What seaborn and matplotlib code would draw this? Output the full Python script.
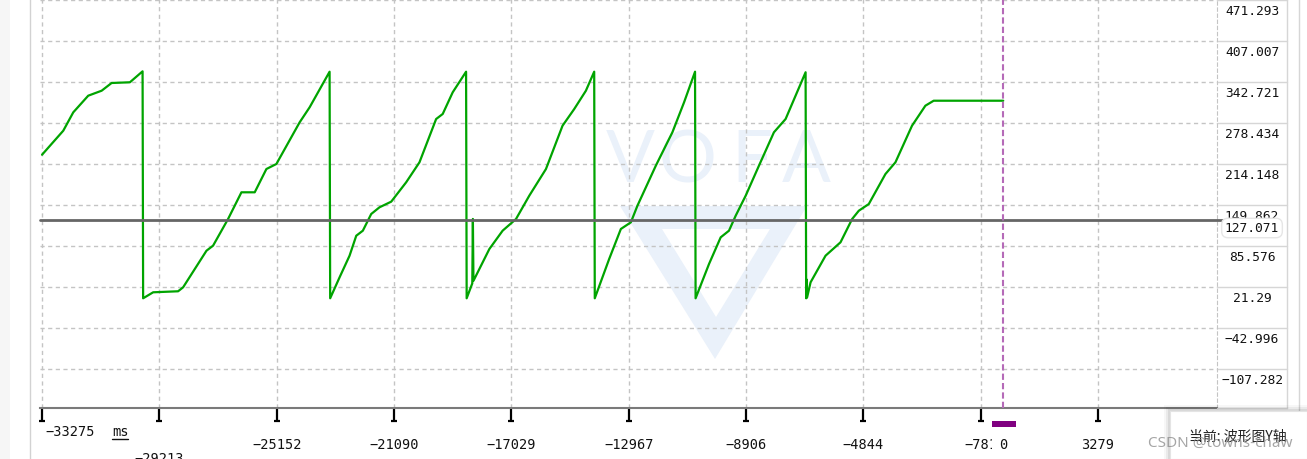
import matplotlib
matplotlib.use("Agg")
import matplotlib.pyplot as plt
import matplotlib.transforms as mtransforms
from matplotlib.patches import Rectangle, Polygon
import seaborn as sns
import pandas as pd

# waveform (time in ms, channel value)
t_ms = [-33275, -32539, -32193, -31675, -31211, -30866, -30233, -29794,
        -29775, -29428, -28564, -28391, -27582, -27354, -26835, -26372,
        -25912, -25508, -25162, -24357, -24011, -23320,
        -23300, -22974, -22629, -22397, -22169, -21879, -21592, -21187,
        -20669, -20209, -19632, -19404, -19058, -18595,
        -18575, -18380, -18360, -18340, -17789, -17330, -16867, -16407,
        -15830, -15256, -14851, -14447, -14160,
        -14140, -13642, -13237, -12891, -12663, -12027, -11453, -11049, -10669,
        -10650, -10185, -9781, -9494, -9262, -8916, -8457, -7938, -7534, -6842,
        -6822, -6805, -6790, -6669, -6151, -5633, -5231, -5000, -4654, -4077,
        -3732, -3158, -2695, -2408, 0]
value = [228.7, 266.4, 295.2, 321.3, 329.1, 341.2, 342.3, 359.5,
         3.6, 13.0, 14.6, 20.8, 78.2, 86.1, 127.9, 169.8,
         169.8, 206.3, 214.2, 279.5, 303.1, 358.9,
         3.6, 36.5, 70.4, 101.7, 109.6, 135.8, 146.3, 155.1,
         185.5, 216.8, 284.7, 292.6, 326.6, 358.9,
         3.6, 27.0, 128.0, 31.0, 80.9, 109.6, 127.9, 164.5,
         206.3, 274.2, 300.4, 329.1, 358.9,
         3.6, 65.2, 112.3, 122.7, 148.8, 211.5, 263.9, 310.9, 358.9,
         3.6, 57.4, 99.2, 109.6, 133.1, 164.5, 211.5, 263.9, 284.7, 358.0,
         3.6, 33.0, 5.0, 28.7, 70.4, 91.4, 127.9, 140.9, 151.4, 198.5,
         216.8, 274.2, 305.6, 313.4, 313.4]

xtick_vals = [-33275, -29213, -25152, -21090, -17029, -12967, -8906, -4844, -781, 3279]
xtick_labels = ["−33275", "−29213", "−25152", "−21090", "−17029", "−12967",
                "−8906", "−4844", "−781", "3279"]
ytick_vals = [471.293, 407.007, 342.721, 278.434, 214.148, 149.862, 85.576,
              21.29, -42.996, -107.282]
ytick_labels = ["471.293", "407.007", "342.721", "278.434", "214.148", "149.862",
                "85.576", "21.29", "−42.996", "−107.282"]
marker_value = 127.071
cursor_time = 0

df = pd.DataFrame({"t": t_ms, "v": value})

sns.set_style("white")
plt.rcParams["font.family"] = ["DejaVu Sans Mono"]

W, H = 1307, 460
fig = plt.figure(figsize=(W / 100, H / 100), dpi=100)
fig.patch.set_facecolor("white")


def fx(px):
    return px / W


def fy(py):
    return 1 - py / H


ax = fig.add_axes([fx(40), fy(409.3), fx(1217) - fx(40), 409.3 / H])
ax.set_xlim(-33345, 7400)
ax.set_ylim(-168.9, 472.9)
ax.set_facecolor("white")

# faint VOFA watermark behind everything
wm = "#eaf1fa"
for ch, px in zip("VOFA", [630, 688, 752, 806]):
    ax.text(fx(px), fy(162), ch, transform=fig.transFigure, ha="center", va="center",
            fontsize=52, color=wm, family=["Lato", "DejaVu Sans"], zorder=0.2)
ax.add_patch(Polygon([[fx(620), fy(207)], [fx(807), fy(207)], [fx(715), fy(360)]],
                     closed=True, transform=fig.transFigure, fc=wm, ec="none", zorder=0.1))
ax.add_patch(Polygon([[fx(662), fy(230)], [fx(770), fy(230)], [fx(716), fy(318)]],
                     closed=True, transform=fig.transFigure, fc="white", ec="none", zorder=0.15))

ax.set_axisbelow(True)
ax.grid(True, color="#c4c4c4", linestyle=(0, (3, 2.5)), linewidth=1)
ax.set_xticks(xtick_vals)
ax.set_xticklabels([])
ax.set_yticks(ytick_vals)
ax.set_yticklabels([])
ax.tick_params(axis="y", length=0, left=False, right=False)
ax.tick_params(axis="x", bottom=True, length=9.5, width=1.6, color="black", direction="out")
for s in ["left", "top"]:
    ax.spines[s].set_visible(False)
ax.spines["right"].set_color("#c4c4c4")
ax.spines["right"].set_linestyle((0, (3, 2.5)))
ax.spines["bottom"].set_color("#7a7a7a")
ax.spines["bottom"].set_linewidth(1.5)

# small feet on the tick marks
foot = mtransforms.blended_transform_factory(ax.transData, fig.transFigure)
ax.plot(xtick_vals, [fy(422)] * len(xtick_vals), transform=foot, linestyle="none",
        marker="_", markersize=4, markeredgewidth=1.6, color="black", clip_on=False)

sns.lineplot(data=df, x="t", y="v", sort=False, estimator=None, color="#00a400",
             linewidth=1.6, ax=ax, zorder=3)
ax.set_xlabel("")
ax.set_ylabel("")

# horizontal marker line and vertical cursor
ax.axhline(marker_value, xmin=0, xmax=1.016, color="#666666", lw=2, zorder=4, clip_on=False)
ax.axvline(cursor_time, color="#b56ab8", lw=1.5, linestyle=(0, (3, 1.5)), zorder=5)

# y label cells on the right
blend = mtransforms.blended_transform_factory(fig.transFigure, ax.transData)
for v, lab in zip(ytick_vals, ytick_labels):
    ax.plot([fx(1217), fx(1287)], [v, v], transform=blend, clip_on=False,
            color="#d6d6d6", lw=1)
    tr = mtransforms.offset_copy(blend, fig=fig, x=0, y=-10.5, units="dots")
    ax.text(fx(1252), v, lab, transform=tr, ha="center", va="center",
            fontsize=9.3, color="#111111")
fig.add_artist(plt.Line2D([fx(1287), fx(1287)], [fy(409), fy(0)], color="#d6d6d6", lw=1))
fig.add_artist(plt.Line2D([fx(1217), fx(1287)], [fy(409), fy(409)], color="#d6d6d6", lw=1))
fig.add_artist(plt.Line2D([fx(1299), fx(1299)], [fy(412), fy(0)], color="#d6d6d6", lw=1))

# marker value tag
fig.text(fx(1252), fy(229), f"{marker_value:.3f}", ha="center", va="center",
         fontsize=9.3, color="#111111", zorder=6,
         bbox=dict(boxstyle="round,pad=0.25,rounding_size=0.5", fc="white",
                   ec="#e6e6e6", lw=1))

# x tick labels, staggered like the original
xlab_y = [432, 459, 445, 445, 445, 445, 445, 445, 445, 445]
for i, (tv, lab) in enumerate(zip(xtick_vals, xtick_labels)):
    bx = mtransforms.blended_transform_factory(ax.transData, fig.transFigure)
    ha = "left" if i == 0 else "center"
    off = mtransforms.offset_copy(bx, fig=fig, x=3 if i == 0 else 0, y=0, units="dots")
    ax.text(tv, fy(xlab_y[i]), lab, transform=off, ha=ha, va="center",
            fontsize=9.8, color="#111111", clip_on=False)

fig.text(fx(120), fy(432), "ms", ha="center", va="center", fontsize=9.8, color="#111111")
fig.add_artist(plt.Line2D([fx(112), fx(128)], [fy(440), fy(440)], color="#111111", lw=1))

# cursor time box
fig.add_artist(Rectangle((fx(992), fy(460)), fx(24), 32 / H, transform=fig.transFigure,
                         fc="white", ec="none", zorder=7))
fig.add_artist(Rectangle((fx(992), fy(427.7)), fx(24), 6 / H, transform=fig.transFigure,
                         fc="#800080", ec="none", zorder=8))
fig.text(fx(1003), fy(445), str(cursor_time), ha="center", va="center", fontsize=9.8,
         color="#111111", zorder=9)

# left panel edge
fig.add_artist(Rectangle((0, 0), fx(10), 1, transform=fig.transFigure, fc="#f6f6f6",
                         ec="none", zorder=0))
fig.add_artist(plt.Line2D([fx(30), fx(30)], [0, 1], color="#d2d2d2", lw=1))

# tooltip in the bottom right corner
for k, a in [(6, 0.03), (4, 0.05), (2, 0.07)]:
    fig.add_artist(Rectangle((fx(1170 - k), 0), fx(140 + k), (48 + k) / H,
                             transform=fig.transFigure, fc="black", alpha=a, ec="none", zorder=9))
fig.add_artist(Rectangle((fx(1170), 0), fx(137), 48 / H, transform=fig.transFigure,
                         fc="white", ec="#e4e4e4", lw=0.8, zorder=10))
fig.text(fx(1238), fy(437), "当前: 波形图Y轴", ha="center", va="center", fontsize=10,
         color="#222222", family=["Noto Sans CJK SC", "DejaVu Sans"], zorder=11)
fig.text(fx(1220), fy(443), "CSDN @towns-chaw", ha="center", va="center", fontsize=11,
         color="#888888", alpha=0.75, family=["Noto Sans", "DejaVu Sans"], zorder=12)

fig.savefig("out.png", dpi=100)
